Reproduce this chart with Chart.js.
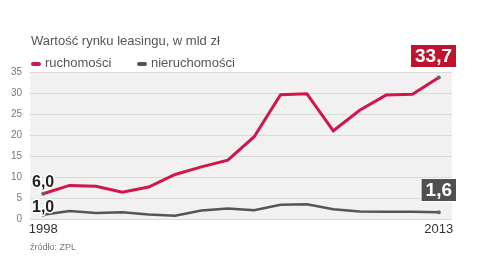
<!DOCTYPE html>
<html>
<head>
<meta charset="utf-8">
<script src="https://cdn.jsdelivr.net/npm/chart.js@4.4.0/dist/chart.umd.min.js"></script>
<style>
body{margin:0;background:#fff;}
#wrap{position:relative;width:482px;height:262px;font-family:"Liberation Sans Narrow","Liberation Sans",Arial,sans-serif;}
#tytul{position:absolute;left:31px;top:33px;font-size:13px;color:#555;white-space:nowrap;}
.leg{position:absolute;top:55px;font-size:13px;color:#555;white-space:nowrap;}
.leg span{display:inline-block;width:10px;height:4px;border-radius:2px;margin-right:4px;vertical-align:middle;}
#zrodlo{position:absolute;left:30px;top:242px;font-size:9px;color:#777;white-space:nowrap;}
</style>
</head>
<body>
<div id="wrap">
<canvas id="myChart" width="482" height="262"></canvas>
<div id="tytul">Wartość rynku leasingu, w mld zł</div>
<div class="leg" style="left:31px"><span style="background:#d0174a"></span>ruchomości</div>
<div class="leg" style="left:137px"><span style="background:#555"></span>nieruchomości</div>
<div id="zrodlo">źródło: ZPL</div>
</div>
<script>
var lata = ['1998','1999','2000','2001','2002','2003','2004','2005','2006','2007','2008','2009','2010','2011','2012','2013'];
var ruchomosci = [6.0, 8.0, 7.8, 6.4, 7.6, 10.6, 12.4, 14.0, 19.6, 29.6, 29.8, 21.0, 25.9, 29.5, 29.7, 33.7];
var nieruchomosci = [1.0, 1.9, 1.4, 1.6, 1.1, 0.8, 2.0, 2.5, 2.1, 3.4, 3.5, 2.3, 1.8, 1.7, 1.7, 1.6];
var osY = [0, 5, 10, 15, 20, 25, 30, 35];

function przecinek(v){
    return v.toFixed(1).replace('.', ',');
}

function kropki(n){
    var r = [];
    for (var i = 0; i < n; i++) r.push((i == 0 || i == n-1) ? 2 : 0);
    return r;
}

var tlo = {
    id: 'tlo',
    beforeDraw: function(chart){
        var a = chart.chartArea, ctx = chart.ctx;
        ctx.save();
        ctx.fillStyle = '#f1f1f1';
        ctx.fillRect(a.left, a.top, a.right - a.left, a.bottom - a.top + 1);
        ctx.restore();
    }
};

var etykiety = {
    id: 'etykiety',
    afterDatasetsDraw: function(chart){
        var ctx = chart.ctx;
        var last = lata.length - 1;
        var m0 = chart.getDatasetMeta(0).data;
        var m1 = chart.getDatasetMeta(1).data;
        ctx.save();
        ctx.font = 'bold 16px "Liberation Sans Narrow","Liberation Sans",Arial,sans-serif';
        ctx.textAlign = 'left';
        ctx.textBaseline = 'alphabetic';
        ctx.lineWidth = 3;
        ctx.strokeStyle = '#fff';
        ctx.fillStyle = '#222';
        var t1 = przecinek(ruchomosci[0]);
        ctx.strokeText(t1, 32, m0[0].y - 7);
        ctx.fillText(t1, 32, m0[0].y - 7);
        var t2 = przecinek(nieruchomosci[0]);
        ctx.strokeText(t2, 32, m1[0].y - 3);
        ctx.fillText(t2, 32, m1[0].y - 3);

        function pudelko(txt, px, top, kolor){
            ctx.font = 'bold 19px "Liberation Sans Narrow","Liberation Sans",Arial,sans-serif';
            var w = ctx.measureText(txt).width + 8;
            var x = 456 - w;
            ctx.fillStyle = '#fff';
            ctx.fillRect(x - 1, top - 1, w + 2, 24);
            ctx.fillStyle = kolor;
            ctx.fillRect(x, top, w, 22);
            ctx.fillStyle = '#fff';
            ctx.textAlign = 'center';
            ctx.textBaseline = 'middle';
            ctx.fillText(txt, x + w/2, top + 12);
        }
        pudelko(przecinek(ruchomosci[last]), m0[last].x, 45, '#c0142e');
        pudelko(przecinek(nieruchomosci[last]), m1[last].x, 179, '#505050');
        ctx.restore();
    }
};

var ctx = document.getElementById('myChart').getContext('2d');
var myChart = new Chart(ctx, {
    type: 'line',
    data: {
        labels: lata,
        datasets: [{
            label: 'ruchomości',
            data: ruchomosci,
            borderColor: '#d0174a',
            borderWidth: 3,
            pointRadius: kropki(lata.length),
            pointBackgroundColor: '#666',
            pointBorderWidth: 0,
            tension: 0
        }, {
            label: 'nieruchomości',
            data: nieruchomosci,
            borderColor: '#555',
            borderWidth: 2.5,
            pointRadius: kropki(lata.length),
            pointBackgroundColor: '#666',
            pointBorderWidth: 0,
            tension: 0
        }]
    },
    options: {
        responsive: false,
        animation: false,
        layout: { padding: { left: 0, right: 30, top: 72, bottom: 0 } },
        plugins: { legend: { display: false }, tooltip: { enabled: false } },
        scales: {
            x: {
                offset: true,
                grid: { display: false, drawTicks: false },
                border: { display: false },
                ticks: {
                    autoSkip: false,
                    maxRotation: 0,
                    padding: 3,
                    color: '#333',
                    font: { size: 13, family: '"Liberation Sans Narrow","Liberation Sans",Arial,sans-serif' },
                    callback: function(v, i){ return (i == 0 || i == lata.length-1) ? lata[i] : ''; }
                },
                afterFit: function(s){ s.height = 43; }
            },
            y: {
                min: osY[0],
                max: osY[osY.length-1],
                grid: { color: '#dadada', drawTicks: false },
                border: { display: false },
                ticks: {
                    stepSize: 5,
                    padding: 8,
                    color: '#777',
                    font: { size: 10, family: '"Liberation Sans Narrow","Liberation Sans",Arial,sans-serif' }
                },
                afterFit: function(s){ s.width = 30; }
            }
        }
    },
    plugins: [tlo, etykiety]
});
</script>
</body>
</html>
